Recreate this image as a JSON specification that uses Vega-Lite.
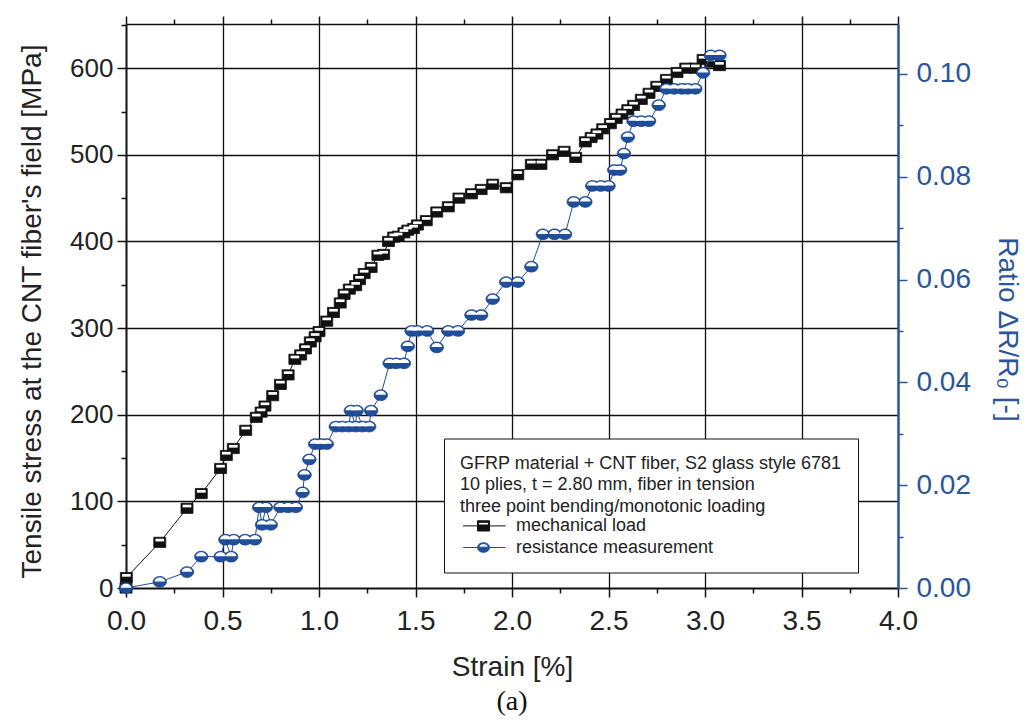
{
  "$schema": "https://vega.github.io/schema/vega-lite/v6.json",
  "width": 772,
  "height": 564,
  "autosize": {"type": "none"},
  "padding": {"left": 126, "top": 24, "right": 129, "bottom": 134},
  "background": "white",
  "config": {
    "font": "Liberation Sans",
    "view": {"stroke": null}
  },
  "title": {"text": "(a)", "orient": "bottom", "anchor": "middle", "font": "Liberation Serif", "fontSize": 28, "fontWeight": "normal", "color": "#111", "offset": 7},
  "datasets": {
    "load": [
      {"strain": 0, "stress": 0}, {"strain": 0.002, "stress": 12}, {"strain": 0.175, "stress": 52.7}, {"strain": 0.316, "stress": 92},
      {"strain": 0.39, "stress": 109}, {"strain": 0.49, "stress": 138}, {"strain": 0.52, "stress": 153}, {"strain": 0.556, "stress": 161},
      {"strain": 0.62, "stress": 182}, {"strain": 0.675, "stress": 197}, {"strain": 0.7, "stress": 203}, {"strain": 0.72, "stress": 210},
      {"strain": 0.76, "stress": 222}, {"strain": 0.8, "stress": 235}, {"strain": 0.84, "stress": 246}, {"strain": 0.875, "stress": 264},
      {"strain": 0.905, "stress": 269}, {"strain": 0.93, "stress": 276}, {"strain": 0.955, "stress": 284}, {"strain": 0.98, "stress": 290},
      {"strain": 1.0, "stress": 296}, {"strain": 1.04, "stress": 308}, {"strain": 1.075, "stress": 318}, {"strain": 1.11, "stress": 329},
      {"strain": 1.13, "stress": 339}, {"strain": 1.157, "stress": 345}, {"strain": 1.19, "stress": 349}, {"strain": 1.21, "stress": 356},
      {"strain": 1.234, "stress": 363}, {"strain": 1.27, "stress": 370}, {"strain": 1.305, "stress": 384}, {"strain": 1.335, "stress": 385},
      {"strain": 1.36, "stress": 400}, {"strain": 1.387, "stress": 405}, {"strain": 1.41, "stress": 406}, {"strain": 1.44, "stress": 410},
      {"strain": 1.46, "stress": 413}, {"strain": 1.49, "stress": 415}, {"strain": 1.51, "stress": 419}, {"strain": 1.556, "stress": 424},
      {"strain": 1.61, "stress": 434}, {"strain": 1.67, "stress": 440}, {"strain": 1.725, "stress": 450}, {"strain": 1.79, "stress": 455},
      {"strain": 1.84, "stress": 460}, {"strain": 1.9, "stress": 466}, {"strain": 1.97, "stress": 462}, {"strain": 2.03, "stress": 477},
      {"strain": 2.1, "stress": 489}, {"strain": 2.15, "stress": 489}, {"strain": 2.21, "stress": 500}, {"strain": 2.27, "stress": 504},
      {"strain": 2.33, "stress": 497}, {"strain": 2.38, "stress": 515}, {"strain": 2.41, "stress": 520}, {"strain": 2.44, "stress": 524},
      {"strain": 2.47, "stress": 530}, {"strain": 2.51, "stress": 536}, {"strain": 2.54, "stress": 542}, {"strain": 2.57, "stress": 547},
      {"strain": 2.6, "stress": 552}, {"strain": 2.63, "stress": 557}, {"strain": 2.67, "stress": 564}, {"strain": 2.71, "stress": 571},
      {"strain": 2.75, "stress": 579}, {"strain": 2.8, "stress": 587}, {"strain": 2.855, "stress": 595}, {"strain": 2.9, "stress": 600},
      {"strain": 2.95, "stress": 600}, {"strain": 2.99, "stress": 610}, {"strain": 3.03, "stress": 607}, {"strain": 3.075, "stress": 603}
    ],
    "resistance": [
      {"strain": 0, "ratio": 0}, {"strain": 0.175, "ratio": 0.0012}, {"strain": 0.316, "ratio": 0.0031}, {"strain": 0.39, "ratio": 0.0061},
      {"strain": 0.49, "ratio": 0.0061}, {"strain": 0.515, "ratio": 0.0094}, {"strain": 0.545, "ratio": 0.0061}, {"strain": 0.558, "ratio": 0.0094},
      {"strain": 0.617, "ratio": 0.0094}, {"strain": 0.668, "ratio": 0.0094}, {"strain": 0.69, "ratio": 0.0157}, {"strain": 0.705, "ratio": 0.0123},
      {"strain": 0.725, "ratio": 0.0157}, {"strain": 0.75, "ratio": 0.0123}, {"strain": 0.8, "ratio": 0.0157}, {"strain": 0.84, "ratio": 0.0157},
      {"strain": 0.88, "ratio": 0.0157}, {"strain": 0.915, "ratio": 0.0186}, {"strain": 0.925, "ratio": 0.022}, {"strain": 0.95, "ratio": 0.025},
      {"strain": 0.98, "ratio": 0.028}, {"strain": 1.01, "ratio": 0.028}, {"strain": 1.04, "ratio": 0.028}, {"strain": 1.087, "ratio": 0.0314},
      {"strain": 1.12, "ratio": 0.0314}, {"strain": 1.155, "ratio": 0.0314}, {"strain": 1.165, "ratio": 0.0345}, {"strain": 1.19, "ratio": 0.0314},
      {"strain": 1.195, "ratio": 0.0345}, {"strain": 1.225, "ratio": 0.0314}, {"strain": 1.26, "ratio": 0.0314}, {"strain": 1.27, "ratio": 0.0345},
      {"strain": 1.32, "ratio": 0.0375}, {"strain": 1.366, "ratio": 0.0437}, {"strain": 1.4, "ratio": 0.0437}, {"strain": 1.44, "ratio": 0.0437},
      {"strain": 1.46, "ratio": 0.047}, {"strain": 1.48, "ratio": 0.05}, {"strain": 1.51, "ratio": 0.05}, {"strain": 1.56, "ratio": 0.05},
      {"strain": 1.61, "ratio": 0.0468}, {"strain": 1.67, "ratio": 0.05}, {"strain": 1.72, "ratio": 0.05}, {"strain": 1.79, "ratio": 0.0531},
      {"strain": 1.84, "ratio": 0.0531}, {"strain": 1.9, "ratio": 0.0562}, {"strain": 1.97, "ratio": 0.0595}, {"strain": 2.03, "ratio": 0.0595},
      {"strain": 2.1, "ratio": 0.0625}, {"strain": 2.16, "ratio": 0.0688}, {"strain": 2.22, "ratio": 0.0688}, {"strain": 2.275, "ratio": 0.0688},
      {"strain": 2.32, "ratio": 0.0751}, {"strain": 2.38, "ratio": 0.0751}, {"strain": 2.416, "ratio": 0.0782}, {"strain": 2.46, "ratio": 0.0782},
      {"strain": 2.5, "ratio": 0.0782}, {"strain": 2.53, "ratio": 0.0813}, {"strain": 2.56, "ratio": 0.0813}, {"strain": 2.58, "ratio": 0.0845},
      {"strain": 2.6, "ratio": 0.0877}, {"strain": 2.63, "ratio": 0.0908}, {"strain": 2.67, "ratio": 0.0908}, {"strain": 2.71, "ratio": 0.0908},
      {"strain": 2.76, "ratio": 0.0939}, {"strain": 2.8, "ratio": 0.0971}, {"strain": 2.84, "ratio": 0.0971}, {"strain": 2.88, "ratio": 0.0971},
      {"strain": 2.91, "ratio": 0.0971}, {"strain": 2.95, "ratio": 0.0971}, {"strain": 2.99, "ratio": 0.1002}, {"strain": 3.03, "ratio": 0.1036},
      {"strain": 3.075, "ratio": 0.1036}
    ]
  },
  "layer": [
    {
      "data": {"name": "load"},
      "mark": {"type": "line", "color": "#111", "strokeWidth": 1},
      "encoding": {
        "x": {
          "field": "strain", "type": "quantitative",
          "scale": {"domain": [0, 4], "nice": false},
          "axis": {
            "orient": "bottom",
            "values": [0, 0.25, 0.5, 0.75, 1, 1.25, 1.5, 1.75, 2, 2.25, 2.5, 2.75, 3, 3.25, 3.5, 3.75, 4],
            "labelExpr": "datum.value % 0.5 == 0 ? format(datum.value, '.1f') : ''",
            "labelOverlap": false,
            "labelFlush": false,
            "tickSize": {"condition": {"test": "datum.value % 0.5 == 0", "value": 9}, "value": 5},
            "tickColor": "#111", "tickWidth": 1.5,
            "domainColor": "#111", "domainWidth": 2,
            "grid": true, "gridColor": "#111", "gridWidth": 1.3,
            "gridOpacity": {"condition": {"test": "datum.value % 0.5 == 0 && datum.value > 0 && datum.value < 4", "value": 1}, "value": 0},
            "labelFontSize": 28, "labelColor": "#222", "labelPadding": 10,
            "title": "Strain [%]", "titleFontSize": 28, "titleFontWeight": "normal", "titleColor": "#222",
            "titleY": 87, "titleBaseline": "alphabetic"
          }
        },
        "y": {
          "field": "stress", "type": "quantitative",
          "scale": {"domain": [0, 651], "nice": false},
          "axis": {
            "orient": "left",
            "values": [0, 50, 100, 150, 200, 250, 300, 350, 400, 450, 500, 550, 600, 650],
            "labelExpr": "datum.value % 100 == 0 ? datum.label : ''",
            "labelOverlap": false,
            "tickSize": {"condition": {"test": "datum.value % 100 == 0", "value": 9}, "value": 5},
            "tickColor": "#111", "tickWidth": 1.5,
            "domainColor": "#111", "domainWidth": 2,
            "grid": true, "gridColor": "#111", "gridWidth": 1.3,
            "gridOpacity": {"condition": {"test": "datum.value % 100 == 0 && datum.value > 0", "value": 1}, "value": 0},
            "labelFontSize": 26, "labelColor": "#222", "labelPadding": 4,
            "title": "Tensile stress at the CNT fiber's field [MPa]", "titleFontSize": 28, "titleFontWeight": "normal", "titleColor": "#222",
            "titleX": -86, "titleY": 287, "titleBaseline": "alphabetic"
          }
        }
      }
    },
    {
      "data": {"name": "load"},
      "mark": {"type": "point", "shape": "M-1,-0.85L1,-0.85L1,0.85L-1,0.85Z", "size": 144, "filled": true, "fill": "#111", "stroke": "#111", "strokeWidth": 0.8, "opacity": 1},
      "encoding": {
        "x": {
          "field": "strain", "type": "quantitative",
          "scale": {"domain": [0, 4], "nice": false},
          "axis": {
            "orient": "top",
            "values": [0, 0.25, 0.5, 0.75, 1, 1.25, 1.5, 1.75, 2, 2.25, 2.5, 2.75, 3, 3.25, 3.5, 3.75, 4],
            "labels": false, "grid": false, "title": null,
            "tickSize": {"condition": {"test": "datum.value % 0.5 == 0", "value": 8}, "value": 5},
            "tickColor": "#111", "tickWidth": 1.5,
            "domainColor": "#111", "domainWidth": 1.5
          }
        },
        "y": {"field": "stress", "type": "quantitative", "scale": {"domain": [0, 651], "nice": false}, "axis": null}
      }
    },
    {
      "data": {"name": "load"},
      "mark": {"type": "point", "shape": "M-0.72,-0.6L0.72,-0.6L0.72,-0.15L-0.72,-0.15Z", "size": 144, "filled": true, "fill": "white", "strokeWidth": 0, "opacity": 1},
      "encoding": {
        "x": {"field": "strain", "type": "quantitative", "scale": {"domain": [0, 4], "nice": false}, "axis": null},
        "y": {"field": "stress", "type": "quantitative", "scale": {"domain": [0, 651], "nice": false}, "axis": null}
      }
    },
    {
      "data": {"name": "resistance"},
      "mark": {"type": "line", "color": "#1f4e9a", "strokeWidth": 1},
      "encoding": {
        "x": {"field": "strain", "type": "quantitative", "scale": {"domain": [0, 4], "nice": false}, "axis": null},
        "y": {
          "field": "ratio", "type": "quantitative",
          "scale": {"domain": [0, 0.1097], "nice": false},
          "axis": {
            "orient": "right",
            "values": [0, 0.01, 0.02, 0.03, 0.04, 0.05, 0.06, 0.07, 0.08, 0.09, 0.1],
            "labelExpr": "round(datum.value * 100) % 2 == 0 ? format(datum.value, '.2f') : ''",
            "labelOverlap": false,
            "tickSize": {"condition": {"test": "round(datum.value * 100) % 2 == 0", "value": 9}, "value": 5},
            "tickColor": "#2a5599", "tickWidth": 1.5,
            "domainColor": "#2a5599", "domainWidth": 2.5,
            "grid": false,
            "labelFontSize": 28, "labelColor": "#2a5599", "labelPadding": 9,
            "title": "Ratio ΔR/R₀ [-]", "titleFontSize": 28, "titleFontWeight": "normal", "titleColor": "#2a5599",
            "titleAngle": 90, "titleX": 100, "titleY": 305, "titleBaseline": "alphabetic"
          }
        }
      }
    },
    {
      "data": {"name": "resistance"},
      "mark": {"type": "point", "shape": "M-1,0A1,0.8 0 1,1 1,0A1,0.8 0 1,1 -1,0Z", "size": 180, "filled": true, "fill": "#1f4e9a", "stroke": "#1a4390", "strokeWidth": 0.8, "opacity": 1},
      "encoding": {
        "x": {"field": "strain", "type": "quantitative", "scale": {"domain": [0, 4], "nice": false}, "axis": null},
        "y": {"field": "ratio", "type": "quantitative", "scale": {"domain": [0, 0.1097], "nice": false}, "axis": null}
      }
    },
    {
      "data": {"name": "resistance"},
      "mark": {"type": "point", "shape": "M-0.78,-0.05A0.78,0.6 0 0,1 0.78,-0.05Z", "size": 180, "filled": true, "fill": "white", "strokeWidth": 0, "opacity": 1},
      "encoding": {
        "x": {"field": "strain", "type": "quantitative", "scale": {"domain": [0, 4], "nice": false}, "axis": null},
        "y": {"field": "ratio", "type": "quantitative", "scale": {"domain": [0, 0.1097], "nice": false}, "axis": null}
      }
    },
    {
      "data": {"values": [{"series": "mechanical load"}, {"series": "resistance measurement"}]},
      "transform": [{"filter": "false"}],
      "mark": {"type": "point", "filled": true, "size": 144, "strokeWidth": 1, "opacity": 1},
      "encoding": {
        "fill": {
          "field": "series", "type": "nominal",
          "scale": {"domain": ["mechanical load", "resistance measurement"], "range": ["#111", "#1f4e9a"]},
          "legend": {
            "orient": "none", "legendX": 318, "legendY": 414.5,
            "title": ["GFRP material + CNT fiber, S2 glass style 6781", "10 plies, t = 2.80 mm, fiber in tension", "three point bending/monotonic loading"],
            "titleFontSize": 18, "titleFontWeight": "normal", "titleColor": "#222", "titleLineHeight": 21.7, "titlePadding": 1, "titleLimit": 600,
            "labelFontSize": 18, "labelColor": "#222", "labelOffset": 38, "labelLimit": 500,
            "symbolSize": 144, "symbolStrokeWidth": 1, "symbolOpacity": 1, "rowPadding": 3.6,
            "padding": 16, "strokeColor": "#111", "fillColor": "white", "cornerRadius": 0
          }
        },
        "stroke": {
          "field": "series", "type": "nominal",
          "scale": {"domain": ["mechanical load", "resistance measurement"], "range": ["#111", "#1f4e9a"]},
          "legend": {
            "orient": "none", "legendX": 318, "legendY": 414.5,
            "title": ["GFRP material + CNT fiber, S2 glass style 6781", "10 plies, t = 2.80 mm, fiber in tension", "three point bending/monotonic loading"],
            "titleFontSize": 18, "titleFontWeight": "normal", "titleColor": "#222", "titleLineHeight": 21.7, "titlePadding": 1, "titleLimit": 600,
            "labelFontSize": 18, "labelColor": "#222", "labelOffset": 38, "labelLimit": 500,
            "symbolSize": 144, "symbolStrokeWidth": 1, "symbolOpacity": 1, "rowPadding": 3.6,
            "padding": 16, "strokeColor": "#111", "fillColor": "white", "cornerRadius": 0
          }
        },
        "shape": {
          "field": "series", "type": "nominal",
          "scale": {
            "domain": ["mechanical load", "resistance measurement"],
            "range": [
              "M-1,0L1.42,0M3.42,0L6.1,0M1.42,-0.85L3.42,-0.85L3.42,0.85L1.42,0.85ZM1.6,-0.6L1.6,-0.15L3.24,-0.15L3.24,-0.6Z",
              "M-1,0L1.42,0M3.42,0L6.1,0M1.42,0A1,0.8 0 1,1 3.42,0A1,0.8 0 1,1 1.42,0ZM1.64,-0.05L3.2,-0.05A0.78,0.6 0 0,0 1.64,-0.05Z"
            ]
          },
          "legend": {
            "orient": "none", "legendX": 318, "legendY": 414.5,
            "title": ["GFRP material + CNT fiber, S2 glass style 6781", "10 plies, t = 2.80 mm, fiber in tension", "three point bending/monotonic loading"],
            "titleFontSize": 18, "titleFontWeight": "normal", "titleColor": "#222", "titleLineHeight": 21.7, "titlePadding": 1, "titleLimit": 600,
            "labelFontSize": 18, "labelColor": "#222", "labelOffset": 38, "labelLimit": 500,
            "symbolSize": 144, "symbolStrokeWidth": 1, "symbolOpacity": 1, "rowPadding": 3.6,
            "padding": 16, "strokeColor": "#111", "fillColor": "white", "cornerRadius": 0
          }
        }
      }
    }
  ],
  "resolve": {
    "scale": {"y": "independent"},
    "axis": {"x": "independent", "y": "independent"}
  }
}
